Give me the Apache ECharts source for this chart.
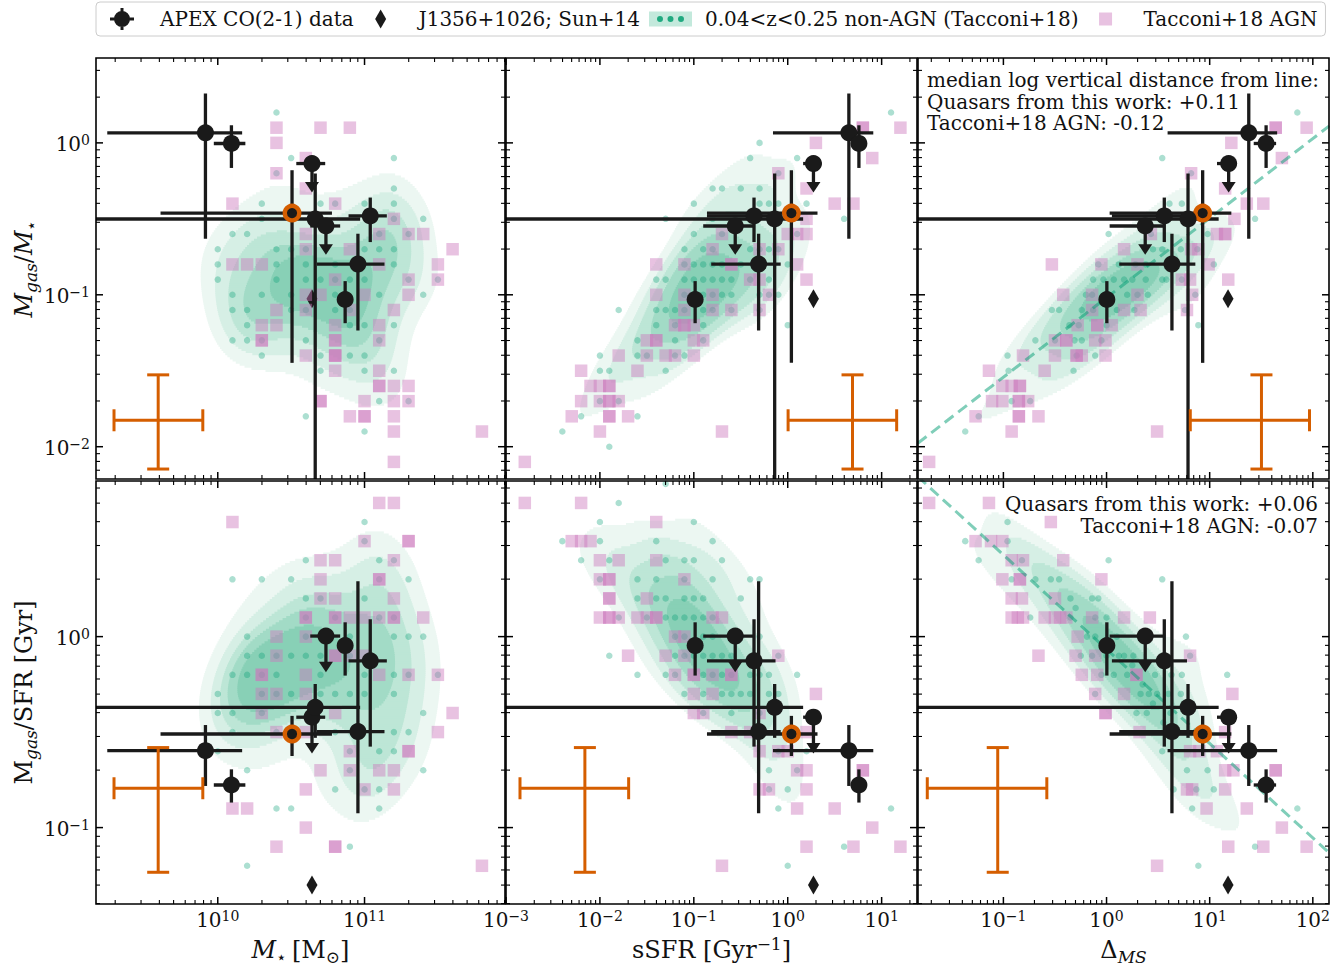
<!DOCTYPE html>
<html>
<head>
<meta charset="utf-8">
<title>Gas fraction and depletion time of quasar hosts</title>
<script src="https://cdn.jsdelivr.net/npm/echarts@6.0.0/dist/echarts.min.js"></script>
<style>
html,body{margin:0;padding:0;background:#ffffff;}
#chart{width:1342px;height:967px;}
</style>
</head>
<body>
<div id="chart"></div>
<script>
const FONT = 'DejaVu Serif';
const TXT = '#111111';
const Q_COLOR = '#1a1a1a';
const ORANGE = '#d55e00';
const p10 = v => Math.pow(10, v);

// ---------------- axis limits (real units) and major tick values ----------------
const massLim = [1.48e9, 9.06e11];
const ssfrLim = [1.0e-3, 23.8];
const dmsLim  = [0.01486, 143.5];
const fgasLim = [0.00613, 3.62];
const tdepLim = [0.0398, 6.53];
const massTicks = [1e10, 1e11];
const ssfrTicks = [1e-3, 1e-2, 1e-1, 1, 10];
const dmsTicks  = [0.1, 1, 10, 100];
const fgasTicks = [0.01, 0.1, 1];
const tdepTicks = [0.1, 1];

// ---------------- quasars from this work (APEX CO(2-1)), log10 values ----------------
const qLogMstar   = [9.916, 10.093, 10.642, 10.506, 10.664, 10.737, 11.039, 10.955, 10.868];
const qLogMstarLo = [9.247, 9.973, 10.535, 9.61, 8.5, 10.63, 10.891, 10.676, 10.84];
const qLogMstarHi = [10.166, 10.188, 10.732, 10.778, 10.97, 10.834, 11.152, 11.136, 10.90];
const qLogFgas    = [0.066, -0.004, -0.136, -0.462, -0.501, -0.547, -0.481, -0.798, -1.031];
const qLogFgasLo  = [-0.631, -0.165, null, -1.448, -3.0, null, -0.653, -1.235, -1.187];
const qLogFgasHi  = [0.325, 0.116, null, -0.18, -0.202, null, -0.36, -0.598, -0.91];
const qLogSSFR    = [0.651, 0.758, 0.274, 0.039, -0.139, -0.559, -0.359, -0.31, -0.986];
const qLogSSFRLo  = [-0.157, 0.70, 0.164, -0.86, -3.5, -0.90, -0.86, -0.815, -0.986];
const qLogSSFRHi  = [0.911, 0.80, 0.36, 0.317, 0.164, -0.36, -0.13, -0.075, -0.986];
const qLogDMS     = [1.379, 1.547, 1.184, 0.932, 0.790, 0.375, 0.560, 0.634, 0.003];
const qLogDMSLo   = [0.592, 1.427, 1.071, 0.03, -2.5, 0.03, 0.052, 0.123, 0.003];
const qLogDMSHi   = [1.654, 1.644, 1.265, 1.21, 1.087, 0.55, 0.78, 0.861, 0.003];
const qLogTdep    = [-0.597, -0.777, -0.422, -0.510, -0.370, 0.003, -0.127, -0.497, -0.047];
const qLogTdepLo  = [-0.782, -0.869, null, -0.625, -0.53, null, -0.576, -0.925, -0.204];
const qLogTdepHi  = [-0.463, -0.695, null, -0.415, -0.248, null, 0.091, 0.29, 0.075];
const qUpperLimit = [false, false, true, false, false, true, false, false, false];
const qHighlight  = [false, false, false, true, false, false, false, false, false];
const ARROW_DEX = 0.19;

// ---------------- J1356+1026 (Sun+14), log10 ----------------
const sunLogMstar = [10.642];
const sunLogFgas  = [-1.026];
const sunLogSSFR  = [0.274];
const sunLogDMS   = [1.178];
const sunLogTdep  = [-1.30];

// ---------------- Tacconi+18 non-AGN (log10 x, log10 y) ----------------
const dotsMassFgas = [[10.4,0.2],[10.5,-0.1],[11.2,-0.1],[10.4,-0.2],[11.2,-0.3],[10.3,-0.4],[10.7,-0.4],[10.8,-0.4],[11.0,-0.4],[11.2,-0.4],[10.3,-0.5],[11.2,-0.5],[11.4,-0.5],[10.1,-0.6],[10.2,-0.6],[11.1,-0.6],[11.3,-0.6],[10.0,-0.7],[10.4,-0.7],[10.5,-0.7],[10.6,-0.7],[11.0,-0.7],[11.1,-0.7],[11.2,-0.7],[10.0,-0.8],[10.4,-0.8],[10.6,-0.8],[10.8,-0.8],[11.2,-0.8],[10.0,-0.9],[10.4,-0.9],[10.6,-0.9],[10.7,-0.9],[10.8,-0.9],[10.9,-0.9],[11.0,-0.9],[11.3,-0.9],[11.5,-0.9],[10.1,-1.0],[10.3,-1.0],[10.5,-1.0],[10.8,-1.0],[11.1,-1.0],[11.4,-1.0],[10.1,-1.1],[10.2,-1.1],[10.5,-1.1],[10.6,-1.1],[10.8,-1.1],[10.9,-1.1],[10.2,-1.2],[10.9,-1.2],[11.0,-1.2],[11.2,-1.2],[10.1,-1.3],[10.2,-1.3],[10.3,-1.3],[10.6,-1.3],[11.1,-1.3],[10.3,-1.4],[10.7,-1.4],[10.9,-1.4],[11.0,-1.4],[10.7,-1.5],[11.0,-1.5],[11.2,-1.5],[11.1,-1.7],[11.3,-1.7],[10.6,-1.8],[11.0,-1.9]];
const dotsSsfrFgas = [[1.1,0.2],[-0.3,0.0],[-0.4,-0.1],[0.1,-0.1],[-0.1,-0.2],[-0.8,-0.3],[-0.7,-0.3],[-0.5,-0.3],[-0.3,-0.3],[-1.0,-0.4],[-0.3,-0.4],[-0.2,-0.4],[-0.1,-0.4],[0.2,-0.4],[-1.3,-0.5],[-0.8,-0.5],[0.6,-0.5],[-1.0,-0.6],[-0.7,-0.6],[0.1,-0.6],[-1.1,-0.7],[-0.9,-0.7],[-0.8,-0.7],[-0.4,-0.7],[-0.3,-0.7],[-0.2,-0.7],[-0.1,-0.7],[-1.1,-0.8],[-1.0,-0.8],[-0.9,-0.8],[-0.8,-0.8],[-0.7,-0.8],[-0.5,-0.8],[0.0,-0.8],[-1.4,-0.9],[-1.3,-0.9],[-1.1,-0.9],[-1.0,-0.9],[-0.9,-0.9],[-0.8,-0.9],[-0.7,-0.9],[-0.6,-0.9],[-0.4,-0.9],[-0.2,-0.9],[-1.1,-1.0],[-0.9,-1.0],[-0.8,-1.0],[-0.7,-1.0],[-0.6,-1.0],[-0.3,-1.0],[-0.2,-1.0],[-0.1,-1.0],[-1.8,-1.1],[-1.4,-1.1],[-1.3,-1.1],[-1.2,-1.1],[-1.1,-1.1],[-0.9,-1.1],[-0.8,-1.1],[-0.6,-1.1],[-0.3,-1.1],[-1.4,-1.2],[-1.2,-1.2],[-0.9,-1.2],[0.0,-1.2],[-1.6,-1.3],[-1.2,-1.3],[-0.9,-1.3],[-2.0,-1.4],[-1.6,-1.4],[-1.5,-1.4],[-1.2,-1.4],[-1.1,-1.4],[-2.0,-1.5],[-1.9,-1.5],[-1.3,-1.5],[-2.0,-1.7],[-1.8,-1.7],[-2.2,-1.8],[-1.6,-1.8],[-2.4,-1.9],[-1.9,-2.0]];
const dotsDmsFgas = [[1.85,0.2],[0.54,-0.1],[0.82,-0.2],[0.61,-0.4],[0.73,-0.4],[1.44,-0.5],[0.02,-0.6],[0.43,-0.6],[0.98,-0.6],[0.54,-0.7],[0.72,-0.7],[0.88,-0.7],[0.45,-0.7],[-0.08,-0.8],[0.12,-0.8],[0.28,-0.8],[0.38,-0.8],[0.6,-0.8],[1.04,-0.8],[-0.13,-0.9],[-0.03,-0.9],[0.07,-0.9],[0.17,-0.9],[0.25,-0.9],[0.38,-0.9],[0.54,-0.9],[0.58,-0.9],[0.73,-0.9],[-0.2,-1.0],[-0.14,-1.0],[0.2,-1.0],[0.30,-1.0],[0.40,-1.0],[0.86,-1.0],[-0.53,-1.1],[-0.46,-1.1],[-0.24,-1.1],[-0.13,-1.1],[0.1,-1.1],[0.27,-1.1],[0.76,-1.1],[-0.36,-1.2],[-0.27,-1.2],[0.0,-1.2],[0.89,-1.2],[-0.69,-1.3],[-0.50,-1.3],[-0.31,-1.3],[-0.24,-1.3],[-0.05,-1.3],[-0.96,-1.4],[-0.29,-1.4],[-0.11,-1.4],[-0.95,-1.5],[-0.32,-1.5],[-0.92,-1.7],[-0.74,-1.7],[-1.24,-1.8],[-1.37,-1.9]];
const dotsMassTdep = [[11.0,0.6],[11.0,0.5],[10.6,0.4],[11.1,0.4],[11.2,0.4],[10.1,0.3],[10.3,0.3],[10.5,0.3],[11.1,0.3],[11.3,0.3],[10.6,0.2],[10.7,0.2],[11.0,0.2],[10.6,0.1],[10.8,0.1],[11.1,0.1],[11.2,0.1],[10.2,0.0],[10.6,0.0],[10.9,0.0],[11.2,0.0],[11.3,0.0],[11.4,0.0],[10.2,-0.1],[10.3,-0.1],[10.4,-0.1],[10.5,-0.1],[10.6,-0.1],[10.7,-0.1],[10.9,-0.1],[10.1,-0.2],[10.2,-0.2],[10.3,-0.2],[10.4,-0.2],[10.7,-0.2],[11.0,-0.2],[11.2,-0.2],[11.3,-0.2],[11.5,-0.2],[10.0,-0.3],[10.3,-0.3],[10.4,-0.3],[10.5,-0.3],[10.7,-0.3],[10.8,-0.3],[10.9,-0.3],[11.0,-0.3],[11.2,-0.3],[10.0,-0.4],[10.1,-0.4],[10.3,-0.4],[11.4,-0.4],[10.1,-0.5],[10.4,-0.5],[10.8,-0.5],[11.2,-0.5],[11.3,-0.5],[10.0,-0.6],[10.9,-0.6],[11.1,-0.6],[11.2,-0.6],[10.2,-0.7],[10.9,-0.7],[11.4,-0.7],[10.8,-0.8],[11.0,-0.8],[11.1,-0.8],[10.4,-0.9],[10.5,-0.9],[11.1,-0.9],[10.9,-1.1],[10.2,-1.2]];
const dotsSsfrTdep = [[-1.3,0.8],[-1.8,0.7],[-2.0,0.6],[-1.0,0.6],[-2.4,0.5],[-2.0,0.5],[-1.4,0.5],[-0.8,0.5],[-2.2,0.4],[-1.9,0.4],[-1.3,0.4],[-1.1,0.4],[-1.0,0.4],[-0.7,0.4],[-2.0,0.3],[-1.6,0.3],[-1.4,0.3],[-1.1,0.3],[-0.8,0.3],[-0.4,0.3],[-0.3,0.3],[-1.6,0.2],[-1.4,0.2],[-1.3,0.2],[-1.1,0.2],[-1.0,0.2],[-0.9,0.2],[-0.5,0.2],[-1.8,0.1],[-1.5,0.1],[-1.3,0.1],[-1.2,0.1],[-1.1,0.1],[-1.0,0.1],[-0.9,0.1],[-0.8,0.1],[-1.2,0.0],[-1.1,0.0],[-0.9,0.0],[-0.8,0.0],[-0.3,0.0],[-1.9,-0.1],[-1.2,-0.1],[-1.1,-0.1],[-1.0,-0.1],[-0.9,-0.1],[-0.8,-0.1],[-0.7,-0.1],[-0.6,-0.1],[-0.1,-0.1],[-1.6,-0.2],[-1.3,-0.2],[-1.2,-0.2],[-0.9,-0.2],[-0.8,-0.2],[-0.7,-0.2],[-0.6,-0.2],[-0.4,-0.2],[-0.3,-0.2],[-0.2,-0.2],[0.1,-0.2],[-1.1,-0.3],[-0.9,-0.3],[-0.7,-0.3],[-0.6,-0.3],[-0.5,-0.3],[-0.4,-0.3],[-0.2,-0.3],[-0.1,-0.3],[-0.9,-0.4],[-0.6,-0.4],[-0.3,-0.4],[-0.1,-0.6],[0.2,-0.6],[-0.2,-0.7],[0.1,-0.7],[-0.2,-0.8],[0.0,-0.8],[-0.1,-0.9],[1.1,-0.9],[0.6,-1.1],[0.0,-1.2]];
const dotsDmsTdep = [[-0.96,0.6],[-1.37,0.5],[-0.96,0.5],[-1.24,0.4],[-0.82,0.4],[0.02,0.4],[-0.92,0.3],[-0.69,0.3],[-0.54,0.3],[-0.46,0.3],[0.54,0.3],[-0.35,0.2],[-0.14,0.2],[-0.08,0.2],[-0.3,0.15],[-0.74,0.1],[-0.35,0.1],[-0.11,0.1],[0.00,0.1],[-0.19,0.0],[-0.11,0.0],[0.1,0.0],[0.77,0.0],[-0.25,-0.1],[-0.14,-0.1],[0.0,-0.1],[0.12,-0.1],[0.17,-0.1],[0.26,-0.1],[0.81,-0.1],[0.25,-0.15],[-0.05,-0.2],[0.07,-0.2],[0.2,-0.2],[0.47,-0.2],[0.63,-0.2],[0.73,-0.2],[1.17,-0.2],[0.35,-0.25],[-0.11,-0.3],[0.33,-0.3],[0.41,-0.3],[0.49,-0.3],[0.60,-0.3],[0.72,-0.3],[0.45,-0.35],[0.29,-0.4],[0.39,-0.4],[0.62,-0.4],[0.55,-0.45],[0.54,-0.6],[0.78,-0.7],[0.98,-0.7],[0.65,-0.8],[0.87,-0.8],[1.04,-0.8],[0.83,-0.9],[1.85,-0.9],[1.44,-1.1],[0.89,-1.2]];

// ---------------- Tacconi+18 AGN (log10 x, log10 y) ----------------
const agnMassFgas = [[10.4,0.1],[10.7,0.1],[10.9,0.1],[10.4,0.0],[10.6,-0.1],[10.4,-0.2],[10.6,-0.3],[10.1,-0.4],[10.8,-0.4],[11.2,-0.5],[10.6,-0.6],[11.1,-0.6],[11.3,-0.6],[11.4,-0.6],[10.6,-0.7],[10.9,-0.7],[11.6,-0.7],[10.1,-0.8],[10.2,-0.8],[10.3,-0.8],[11.1,-0.8],[11.5,-0.8],[10.8,-0.9],[11.3,-0.9],[11.5,-0.9],[10.6,-1.0],[10.7,-1.0],[11.0,-1.0],[11.3,-1.0],[10.4,-1.1],[10.6,-1.1],[10.9,-1.1],[11.2,-1.1],[10.3,-1.2],[10.4,-1.2],[10.8,-1.2],[11.1,-1.2],[10.3,-1.3],[10.3,-1.3],[10.8,-1.3],[10.8,-1.3],[11.1,-1.3],[10.6,-1.4],[10.8,-1.4],[10.8,-1.4],[10.8,-1.4],[10.8,-1.5],[11.1,-1.5],[11.1,-1.6],[11.1,-1.6],[11.2,-1.6],[11.3,-1.6],[10.7,-1.7],[10.7,-1.7],[11.0,-1.7],[11.2,-1.7],[11.3,-1.7],[10.9,-1.8],[11.0,-1.8],[11.0,-1.8],[11.2,-1.8],[11.2,-1.9],[11.8,-1.9],[11.2,-2.1]];
const agnSsfrFgas = [[0.8,0.1],[0.8,0.1],[1.2,0.1],[0.3,0.0],[0.9,-0.1],[-0.1,-0.2],[0.2,-0.3],[0.5,-0.4],[0.7,-0.4],[0.2,-0.5],[-0.7,-0.6],[0.0,-0.6],[0.1,-0.6],[0.2,-0.6],[-0.8,-0.7],[-0.3,-0.7],[-0.1,-0.7],[-1.4,-0.8],[-1.1,-0.8],[-0.6,-0.8],[-0.6,-0.8],[0.1,-0.8],[-0.4,-0.9],[-0.3,-0.9],[0.2,-0.9],[-1.4,-1.0],[-1.1,-1.0],[-0.8,-1.0],[-0.2,-1.0],[-1.1,-1.1],[-0.8,-1.1],[-0.6,-1.1],[-0.3,-1.1],[-1.2,-1.2],[-1.1,-1.2],[-1.1,-1.2],[-1.0,-1.2],[-1.5,-1.3],[-1.4,-1.3],[-1.4,-1.3],[-1.0,-1.3],[-0.9,-1.3],[-1.8,-1.4],[-1.5,-1.4],[-1.3,-1.4],[-1.2,-1.4],[-1.0,-1.4],[-2.2,-1.5],[-1.6,-1.5],[-2.1,-1.6],[-2.0,-1.6],[-1.9,-1.6],[-1.9,-1.6],[-2.2,-1.7],[-2.0,-1.7],[-1.9,-1.7],[-1.9,-1.7],[-1.8,-1.7],[-2.3,-1.8],[-1.9,-1.8],[-1.9,-1.8],[-1.7,-1.8],[-2.0,-1.9],[-0.7,-1.9],[-2.8,-2.1]];
const agnDmsFgas = [[1.64,0.1],[1.64,0.1],[1.94,0.1],[1.21,0.0],[1.70,-0.1],[0.82,-0.2],[1.15,-0.3],[1.36,-0.4],[1.52,-0.4],[1.24,-0.5],[0.43,-0.6],[1.07,-0.6],[1.15,-0.6],[1.15,-0.6],[0.17,-0.7],[0.82,-0.7],[0.89,-0.7],[-0.53,-0.8],[-0.05,-0.8],[0.30,-0.8],[0.99,-0.8],[0.73,-0.9],[0.81,-0.9],[1.18,-0.9],[-0.42,-1.0],[-0.14,-1.0],[0.30,-1.0],[0.83,-1.0],[-0.14,-1.1],[0.17,-1.1],[0.33,-1.1],[0.78,-1.1],[-0.28,-1.2],[-0.09,-1.2],[-0.09,-1.2],[0.05,-1.2],[-0.50,-1.3],[-0.39,-1.3],[-0.39,-1.3],[-0.11,-1.3],[-0.01,-1.3],[-0.81,-1.4],[-0.50,-1.4],[-0.29,-1.4],[-0.29,-1.4],[-0.24,-1.4],[-0.01,-1.4],[-1.14,-1.5],[-0.60,-1.5],[-1.01,-1.6],[-0.92,-1.6],[-0.84,-1.6],[-0.84,-1.6],[-1.11,-1.7],[-1.01,-1.7],[-0.85,-1.7],[-0.85,-1.7],[-0.76,-1.7],[-1.27,-1.8],[-0.85,-1.8],[-0.85,-1.8],[-0.66,-1.8],[-0.92,-1.9],[0.49,-1.9],[-1.72,-2.1]];
const agnMassTdep = [[11.1,0.7],[11.2,0.7],[10.1,0.6],[11.0,0.5],[11.3,0.5],[11.3,0.5],[10.7,0.4],[10.8,0.4],[11.2,0.4],[10.7,0.3],[11.1,0.3],[11.1,0.3],[10.7,0.2],[10.8,0.2],[11.2,0.2],[10.6,0.1],[10.6,0.1],[10.8,0.1],[10.8,0.1],[10.9,0.1],[11.0,0.1],[11.1,0.1],[11.2,0.1],[11.2,0.1],[11.4,0.1],[10.4,0.0],[10.6,0.0],[10.4,-0.1],[10.8,-0.1],[10.8,-0.1],[10.9,-0.1],[11.0,-0.1],[10.3,-0.2],[10.3,-0.2],[10.6,-0.2],[11.1,-0.2],[11.3,-0.2],[11.5,-0.2],[10.3,-0.3],[10.4,-0.3],[10.6,-0.3],[10.3,-0.4],[10.8,-0.4],[11.6,-0.4],[10.4,-0.5],[10.6,-0.5],[11.5,-0.5],[10.9,-0.6],[11.3,-0.6],[11.3,-0.6],[10.7,-0.7],[10.9,-0.7],[11.1,-0.7],[11.2,-0.7],[10.6,-0.8],[11.0,-0.8],[11.2,-0.8],[10.1,-0.9],[10.2,-0.9],[10.6,-1.0],[10.4,-1.1],[10.8,-1.1],[10.8,-1.1],[11.8,-1.2]];
const agnSsfrTdep = [[-2.8,0.7],[-2.2,0.7],[-1.4,0.6],[-2.3,0.5],[-2.2,0.5],[-2.1,0.5],[-2.0,0.4],[-1.8,0.4],[-1.4,0.4],[-2.0,0.3],[-1.9,0.3],[-1.9,0.3],[-1.1,0.3],[-1.9,0.2],[-1.9,0.2],[-1.5,0.2],[-2.0,0.1],[-1.9,0.1],[-1.9,0.1],[-1.8,0.1],[-1.6,0.1],[-1.5,0.1],[-1.4,0.1],[-1.4,0.1],[-0.8,0.1],[-0.7,0.1],[-1.2,0.0],[-1.1,0.0],[-1.7,-0.1],[-1.3,-0.1],[-1.1,-0.1],[-0.1,-0.1],[-1.2,-0.2],[-1.0,-0.2],[-1.0,-0.2],[-0.8,-0.2],[-0.6,-0.2],[-0.6,-0.2],[-1.0,-0.3],[-0.8,-0.3],[0.3,-0.3],[-1.0,-0.4],[-0.9,-0.4],[-0.3,-0.4],[-0.6,-0.5],[-0.4,-0.5],[0.2,-0.5],[-0.3,-0.6],[-0.1,-0.6],[0.0,-0.6],[0.1,-0.7],[0.2,-0.7],[0.8,-0.7],[0.8,-0.7],[-0.3,-0.8],[-0.2,-0.8],[0.2,-0.8],[0.1,-0.9],[0.5,-0.9],[0.9,-1.0],[0.2,-1.1],[0.7,-1.1],[1.2,-1.1],[-0.7,-1.2]];
const agnDmsTdep = [[-1.72,0.7],[-1.14,0.7],[-0.54,0.6],[-1.27,0.5],[-1.12,0.5],[-1.01,0.5],[-0.92,0.4],[-0.81,0.4],[-0.42,0.4],[-1.01,0.3],[-0.84,0.3],[-0.84,0.3],[-0.05,0.3],[-0.92,0.2],[-0.82,0.2],[-0.50,0.2],[-0.92,0.1],[-0.86,0.1],[-0.81,0.1],[-0.60,0.1],[-0.50,0.1],[-0.45,0.1],[-0.39,0.1],[-0.14,0.1],[0.17,0.1],[0.42,0.1],[-0.28,0.0],[-0.66,-0.1],[-0.30,-0.1],[-0.11,-0.1],[0.81,-0.1],[-0.24,-0.2],[-0.09,-0.2],[0.29,-0.2],[0.29,-0.2],[-0.11,-0.3],[0.17,-0.3],[1.22,-0.3],[-0.01,-0.4],[-0.01,-0.4],[0.32,-0.5],[1.15,-0.5],[0.81,-0.6],[0.90,-0.6],[1.07,-0.6],[1.15,-0.7],[1.23,-0.7],[1.64,-0.7],[1.64,-0.7],[0.78,-0.8],[0.83,-0.8],[1.15,-0.8],[0.97,-0.9],[1.36,-0.9],[1.70,-1.0],[1.18,-1.1],[1.52,-1.1],[1.94,-1.1],[0.49,-1.2]];

// ---------------- typical uncertainty crosses: [cx, cy, xlo, xhi, ylo, yhi] (log10) ----------------
const refErrMassFgas = [9.594, -1.826, 9.293, 9.898, -2.147, -1.527];
const refErrSsfrFgas = [0.690, -1.826, 0.004, 1.160, -2.147, -1.527];
const refErrDmsFgas  = [1.502, -1.826, 0.812, 1.968, -2.147, -1.527];
const refErrMassTdep = [9.594, -0.794, 9.293, 9.898, -1.234, -0.581];
const refErrSsfrTdep = [-2.160, -0.794, -2.851, -1.694, -1.234, -0.581];
const refErrDmsTdep  = [-1.055, -0.794, -1.738, -0.579, -1.234, -0.581];

// ---------------- dashed reference lines (two end points, log10) ----------------
const lineDmsFgas = [[-1.83, -1.977], [2.16, 0.112]];
const lineDmsTdep = [[-1.83, 0.838], [2.16, -1.133]];

// ---------------- annotation texts ----------------
const noteFgas = 'median log vertical distance from line:\nQuasars from this work: +0.11\nTacconi+18 AGN: -0.12';
const noteTdep = 'Quasars from this work: +0.06\nTacconi+18 AGN: -0.07';

// =====================================================================
const AX = {
  mass: {lim: massLim, ticks: massTicks},
  ssfr: {lim: ssfrLim, ticks: ssfrTicks},
  dms:  {lim: dmsLim,  ticks: dmsTicks},
  fgas: {lim: fgasLim, ticks: fgasTicks},
  tdep: {lim: tdepLim, ticks: tdepTicks}
};
const Q = {
  mass: [qLogMstar, qLogMstarLo, qLogMstarHi],
  ssfr: [qLogSSFR, qLogSSFRLo, qLogSSFRHi],
  dms:  [qLogDMS, qLogDMSLo, qLogDMSHi],
  fgas: [qLogFgas, qLogFgasLo, qLogFgasHi],
  tdep: [qLogTdep, qLogTdepLo, qLogTdepHi]
};
const SUN = {mass: sunLogMstar, ssfr: sunLogSSFR, dms: sunLogDMS, fgas: sunLogFgas, tdep: sunLogTdep};

const GRID_BOX = [
  {left: 96,  top: 58,  width: 409, height: 421},
  {left: 506, top: 58,  width: 411, height: 421},
  {left: 918, top: 58,  width: 411, height: 421},
  {left: 96,  top: 481, width: 409, height: 423},
  {left: 506, top: 481, width: 411, height: 423},
  {left: 918, top: 481, width: 411, height: 423}
];
const PANELS = [
  {x: 'mass', y: 'fgas', dots: dotsMassFgas, agn: agnMassFgas, ref: refErrMassFgas, line: null,        xlab: false, ylab: true},
  {x: 'ssfr', y: 'fgas', dots: dotsSsfrFgas, agn: agnSsfrFgas, ref: refErrSsfrFgas, line: null,        xlab: false, ylab: false},
  {x: 'dms',  y: 'fgas', dots: dotsDmsFgas,  agn: agnDmsFgas,  ref: refErrDmsFgas,  line: lineDmsFgas, xlab: false, ylab: false},
  {x: 'mass', y: 'tdep', dots: dotsMassTdep, agn: agnMassTdep, ref: refErrMassTdep, line: null,        xlab: true,  ylab: true},
  {x: 'ssfr', y: 'tdep', dots: dotsSsfrTdep, agn: agnSsfrTdep, ref: refErrSsfrTdep, line: null,        xlab: true,  ylab: false},
  {x: 'dms',  y: 'tdep', dots: dotsDmsTdep,  agn: agnDmsTdep,  ref: refErrDmsTdep,  line: lineDmsTdep, xlab: true,  ylab: false}
];

const BAND_COLORS = ['#ecf7f2', '#d6efe5', '#bde6d6', '#a2dbc6', '#88d0b6'];
const KDE_LEVELS = [0.25, 0.4, 0.55, 0.7, 0.85];
const KDE_BW = 1.0;

// gaussian KDE (Scott bandwidth, full covariance) evaluated in log space; filled iso-proportion bands
function kdeBands(pts, xr, yr) {
  const n = pts.length;
  let mx = 0, my = 0;
  for (const p of pts) { mx += p[0]; my += p[1]; }
  mx /= n; my /= n;
  let sxx = 0, syy = 0, sxy = 0;
  for (const p of pts) { const dx = p[0] - mx, dy = p[1] - my; sxx += dx * dx; syy += dy * dy; sxy += dx * dy; }
  sxx /= (n - 1); syy /= (n - 1); sxy /= (n - 1);
  const f2 = Math.pow(n, -1 / 3) * KDE_BW * KDE_BW;
  const a = sxx * f2, b = sxy * f2, d = syy * f2, det = a * d - b * b;
  const ia = d / det, ib = -b / det, id = a / det;
  const NX = 200, NY = 200, dx = (xr[1] - xr[0]) / NX, dy = (yr[1] - yr[0]) / NY;
  const D = new Float64Array(NX * NY);
  let tot = 0;
  for (let j = 0; j < NY; j++) {
    const y = yr[0] + (j + 0.5) * dy;
    for (let i = 0; i < NX; i++) {
      const x = xr[0] + (i + 0.5) * dx;
      let s = 0;
      for (const p of pts) { const u = x - p[0], v = y - p[1]; s += Math.exp(-0.5 * (ia * u * u + 2 * ib * u * v + id * v * v)); }
      D[j * NX + i] = s; tot += s;
    }
  }
  const sorted = Array.from(D).sort((u, v) => v - u);
  const cum = new Float64Array(sorted.length);
  let c = 0;
  for (let k = 0; k < sorted.length; k++) { c += sorted[k]; cum[k] = c / tot; }
  const thr = KDE_LEVELS.map(q => {
    const target = 1 - q;
    let k = 0;
    while (k < cum.length - 1 && cum[k] < target) k++;
    return sorted[k];
  });
  const out = [];
  thr.forEach((t, k) => {
    for (let j = 0; j < NY; j++) {
      const y0 = yr[0] + j * dy, y1 = y0 + dy;
      let start = null;
      for (let i = 0; i < NX; i++) {
        const v = D[j * NX + i], inside = v >= t;
        const xc = xr[0] + (i + 0.5) * dx;
        if (inside && start === null) {
          if (i === 0) start = xr[0];
          else { const pv = D[j * NX + i - 1]; start = xc - dx + dx * (t - pv) / (v - pv); }
        } else if (!inside && start !== null) {
          const pv = D[j * NX + i - 1];
          const end = xc - dx + dx * (pv - t) / (pv - v);
          out.push([p10(start), p10(end), p10(y0), p10(y1), k]);
          start = null;
        }
      }
      if (start !== null) out.push([p10(start), p10(xr[1]), p10(y0), p10(y1), k]);
    }
  });
  return out;
}

function minorTicks(lim) {
  const out = [];
  for (let e = -5; e <= 13; e++) for (let m = 2; m <= 9; m++) {
    const v = m * Math.pow(10, e);
    if (v >= lim[0] * 1.0001 && v <= lim[1] * 0.9999) out.push(v);
  }
  return out;
}
function powLabel(v) {
  const e = Math.round(Math.log10(v));
  return '{b|10}{s|' + (e < 0 ? '\u2212' : '') + Math.abs(e) + '}';
}
const RICH_TICK = {
  b: {fontFamily: FONT, fontSize: 20, lineHeight: 22, fill: TXT},
  s: {fontFamily: FONT, fontSize: 14, lineHeight: 8, verticalAlign: 'top', fill: TXT}
};

function renderAxes(params, api) {
  const cs = params.coordSys, kind = api.value(2), lab = api.value(3);
  const L = cs.x, R = cs.x + cs.width, T = cs.y, B = cs.y + cs.height;
  if (kind === 9) {
    return {type: 'rect', shape: {x: L, y: T, width: cs.width, height: cs.height}, style: {fill: 'none', stroke: '#000', lineWidth: 1.6}};
  }
  const pt = api.coord([api.value(0), api.value(1)]);
  const major = (kind === 0 || kind === 2), len = major ? 7 : 4;
  const st = {stroke: '#000', lineWidth: major ? 1.5 : 1.1};
  const ch = [];
  if (kind <= 1) {
    const x = pt[0];
    ch.push({type: 'line', shape: {x1: x, y1: B, x2: x, y2: B - len}, style: st});
    ch.push({type: 'line', shape: {x1: x, y1: T, x2: x, y2: T + len}, style: st});
    if (lab) ch.push({type: 'text', x: x, y: B + 5, style: {text: powLabel(api.value(0)), rich: RICH_TICK, align: 'center', verticalAlign: 'top'}});
  } else {
    const y = pt[1];
    ch.push({type: 'line', shape: {x1: L, y1: y, x2: L + len, y2: y}, style: st});
    ch.push({type: 'line', shape: {x1: R, y1: y, x2: R - len, y2: y}, style: st});
    if (lab) ch.push({type: 'text', x: L - 6, y: y + 1, style: {text: powLabel(api.value(1)), rich: RICH_TICK, align: 'right', verticalAlign: 'middle'}});
  }
  return {type: 'group', children: ch};
}

function renderBand(params, api) {
  const p0 = api.coord([api.value(0), api.value(3)]);
  const p1 = api.coord([api.value(1), api.value(2)]);
  return {type: 'rect', shape: {x: p0[0], y: p0[1] - 0.4, width: p1[0] - p0[0], height: p1[1] - p0[1] + 0.8},
          style: {fill: BAND_COLORS[api.value(4)]}};
}

function renderQErr(params, api) {
  const x = api.value(0), y = api.value(1), xl = api.value(2), xh = api.value(3), yl = api.value(4), yh = api.value(5), up = api.value(6);
  const c = api.coord([x, y]);
  const st = {stroke: Q_COLOR, lineWidth: 3.3};
  const ch = [];
  if (xh > xl * 1.001) {
    const a = api.coord([xl, y])[0], b = api.coord([xh, y])[0];
    ch.push({type: 'line', shape: {x1: a, y1: c[1], x2: b, y2: c[1]}, style: st});
  }
  if (up) {
    const tip = api.coord([x, y * p10(-ARROW_DEX)])[1];
    ch.push({type: 'line', shape: {x1: c[0], y1: c[1], x2: c[0], y2: tip - 8}, style: st});
    ch.push({type: 'polygon', shape: {points: [[c[0] - 7, tip - 10.5], [c[0] + 7, tip - 10.5], [c[0], tip]]}, style: {fill: Q_COLOR}});
  } else if (yh > yl * 1.001) {
    const a = api.coord([x, yl])[1], b = api.coord([x, yh])[1];
    ch.push({type: 'line', shape: {x1: c[0], y1: a, x2: c[0], y2: b}, style: st});
  }
  return {type: 'group', children: ch};
}

function renderRefErr(params, api) {
  const x = api.value(0), y = api.value(1);
  const c = api.coord([x, y]);
  const xa = api.coord([api.value(2), y])[0], xb = api.coord([api.value(3), y])[0];
  const ya = api.coord([x, api.value(4)])[1], yb = api.coord([x, api.value(5)])[1];
  const st = {stroke: ORANGE, lineWidth: 3};
  const cap = 11;
  return {type: 'group', children: [
    {type: 'line', shape: {x1: xa, y1: c[1], x2: xb, y2: c[1]}, style: st},
    {type: 'line', shape: {x1: c[0], y1: ya, x2: c[0], y2: yb}, style: st},
    {type: 'line', shape: {x1: xa, y1: c[1] - cap, x2: xa, y2: c[1] + cap}, style: st},
    {type: 'line', shape: {x1: xb, y1: c[1] - cap, x2: xb, y2: c[1] + cap}, style: st},
    {type: 'line', shape: {x1: c[0] - cap, y1: ya, x2: c[0] + cap, y2: ya}, style: st},
    {type: 'line', shape: {x1: c[0] - cap, y1: yb, x2: c[0] + cap, y2: yb}, style: st}
  ]};
}

const NAME_Q = 'APEX CO(2-1) data';
const NAME_SUN = 'J1356+1026; Sun+14';
const NAME_DOTS = '0.04<z<0.25 non-AGN (Tacconi+18)';
const NAME_AGN = 'Tacconi+18 AGN';

const grids = [], xAxes = [], yAxes = [], series = [];
PANELS.forEach((P, i) => {
  const xl = AX[P.x].lim, yl = AX[P.y].lim;
  grids.push(Object.assign({show: false}, GRID_BOX[i]));
  xAxes.push({type: 'log', logBase: 10, gridIndex: i, min: xl[0], max: xl[1], show: false});
  yAxes.push({type: 'log', logBase: 10, gridIndex: i, min: yl[0], max: yl[1], show: false});
  const base = {xAxisIndex: i, yAxisIndex: i, silent: true, animation: false};

  series.push(Object.assign({}, base, {
    type: 'custom', name: 'kde', clip: true, z: 1, progressive: 0,
    encode: {x: [0, 1], y: [2, 3]},
    data: kdeBands(P.dots, [Math.log10(xl[0]), Math.log10(xl[1])], [Math.log10(yl[0]), Math.log10(yl[1])]),
    renderItem: renderBand
  }));
  series.push(Object.assign({}, base, {
    type: 'scatter', name: NAME_DOTS, z: 2, symbol: 'circle', symbolSize: 6.5,
    itemStyle: {color: 'rgba(2,158,115,0.33)', opacity: 1},
    data: P.dots.map(p => [p10(p[0]), p10(p[1])])
  }));
  series.push(Object.assign({}, base, {
    type: 'scatter', name: NAME_SUN, z: 3, symbol: 'path://M0,-10L5.5,0L0,10L-5.5,0Z', symbolSize: [11, 19], symbolKeepAspect: false,
    itemStyle: {color: Q_COLOR, opacity: 1},
    data: SUN[P.x].map((v, k) => [p10(v), p10(SUN[P.y][k])])
  }));
  series.push(Object.assign({}, base, {
    type: 'scatter', name: NAME_AGN, z: 4, symbol: 'rect', symbolSize: 12.5,
    itemStyle: {color: 'rgba(204,120,188,0.45)', opacity: 1},
    data: P.agn.map(p => [p10(p[0]), p10(p[1])])
  }));
  if (P.line) {
    series.push(Object.assign({}, base, {
      type: 'line', name: 'relation', z: 5, showSymbol: false, symbol: 'none', clip: true,
      lineStyle: {color: 'rgba(2,158,115,0.5)', width: 3, type: [11, 6]},
      data: P.line.map(p => [p10(p[0]), p10(p[1])])
    }));
  }
  const [qx, qxl, qxh] = Q[P.x], [qy, qyl, qyh] = Q[P.y];
  series.push(Object.assign({}, base, {
    type: 'custom', name: 'quasar errors', clip: true, z: 6,
    encode: {x: 0, y: 1},
    data: qx.map((v, k) => [p10(v), p10(qy[k]), p10(qxl[k]), p10(qxh[k]),
      p10(qyl[k] === null ? qy[k] : qyl[k]), p10(qyh[k] === null ? qy[k] : qyh[k]), qUpperLimit[k] ? 1 : 0]),
    renderItem: renderQErr
  }));
  series.push(Object.assign({}, base, {
    type: 'scatter', name: NAME_Q, z: 7, symbol: 'circle', symbolSize: 17,
    itemStyle: {color: Q_COLOR, opacity: 1},
    data: qx.map((v, k) => qHighlight[k]
      ? {value: [p10(v), p10(qy[k])], symbolSize: 14.5, itemStyle: {color: Q_COLOR, borderColor: ORANGE, borderWidth: 4.3, opacity: 1}}
      : {value: [p10(v), p10(qy[k])]})
  }));
  series.push(Object.assign({}, base, {
    type: 'custom', name: 'typical uncertainty', clip: true, z: 8,
    encode: {x: 0, y: 1},
    data: [[p10(P.ref[0]), p10(P.ref[1]), p10(P.ref[2]), p10(P.ref[3]), p10(P.ref[4]), p10(P.ref[5])]],
    renderItem: renderRefErr
  }));
  const td = [];
  AX[P.x].ticks.forEach(v => td.push([v, yl[0], 0, P.xlab ? 1 : 0]));
  minorTicks(xl).forEach(v => td.push([v, yl[0], 1, 0]));
  AX[P.y].ticks.forEach(v => td.push([xl[0], v, 2, P.ylab ? 1 : 0]));
  minorTicks(yl).forEach(v => td.push([xl[0], v, 3, 0]));
  td.push([xl[0], yl[0], 9, 0]);
  series.push(Object.assign({}, base, {
    type: 'custom', name: 'axes', clip: false, z: 20, encode: {x: 0, y: 1}, data: td, renderItem: renderAxes
  }));
});

// ---------------- legend icons ----------------
const ICON_ERRBAR = 'path://M0,0M51,22M6,9.5h24v3h-24zM16.5,0h3v22h-3zM10,11a8,8 0 1,1 16,0a8,8 0 1,1 -16,0z';
const ICON_DIAMOND = 'path://M0,0M51,22M18,1.5L23.5,11L18,20.5L12.5,11z';
const ICON_SQUARE = 'path://M0,0M51,22M11.5,4.5h13v13h-13z';
const patchSvg = "<svg xmlns='http://www.w3.org/2000/svg' width='51' height='22' viewBox='0 0 51 22'>" +
  "<rect x='0' y='3.5' width='43' height='15' fill='#c3e9dc'/>" +
  "<circle cx='11' cy='11' r='3' fill='#20aa80'/><circle cx='21.5' cy='11' r='3' fill='#20aa80'/><circle cx='32' cy='11' r='3' fill='#20aa80'/></svg>";
const ICON_PATCH = 'image://data:image/svg+xml;charset=utf-8,' + encodeURIComponent(patchSvg);

const RICH_T = {
  i:   {fontFamily: FONT, fontSize: 24, fontStyle: 'italic', lineHeight: 30, fill: TXT},
  r:   {fontFamily: FONT, fontSize: 24, lineHeight: 30, fill: TXT},
  sub: {fontFamily: FONT, fontSize: 17, lineHeight: 15, verticalAlign: 'bottom', fill: TXT},
  subi:{fontFamily: FONT, fontSize: 17, fontStyle: 'italic', lineHeight: 15, verticalAlign: 'bottom', fill: TXT},
  sup: {fontFamily: FONT, fontSize: 17, lineHeight: 15, verticalAlign: 'top', fill: TXT}
};

const option = {
  animation: false,
  backgroundColor: '#ffffff',
  textStyle: {fontFamily: FONT},
  grid: grids,
  xAxis: xAxes,
  yAxis: yAxes,
  legend: {
    left: 96, top: 2, orient: 'horizontal', selectedMode: false,
    itemWidth: 51, itemHeight: 22, itemGap: 9, padding: [6, 8],
    symbolKeepAspect: false,
    borderColor: '#cccccc', borderWidth: 1, borderRadius: 4, backgroundColor: 'rgba(255,255,255,0.85)',
    textStyle: {fontFamily: FONT, fontSize: 20, color: TXT},
    data: [
      {name: NAME_Q, icon: ICON_ERRBAR, itemStyle: {color: Q_COLOR, opacity: 1}},
      {name: NAME_SUN, icon: ICON_DIAMOND, itemStyle: {color: Q_COLOR, opacity: 1}},
      {name: NAME_DOTS, icon: ICON_PATCH},
      {name: NAME_AGN, icon: ICON_SQUARE, itemStyle: {color: 'rgba(204,120,188,0.45)', opacity: 1}}
    ]
  },
  graphic: [
    {type: 'text', x: 927, y: 69, z: 50, silent: true,
     style: {text: noteFgas, fontFamily: FONT, fontSize: 20, lineHeight: 21.7, fill: TXT, align: 'left', verticalAlign: 'top'}},
    {type: 'text', x: 1318, y: 493, z: 50, silent: true,
     style: {text: noteTdep, fontFamily: FONT, fontSize: 20, lineHeight: 21.7, fill: TXT, align: 'right', verticalAlign: 'top'}},
    {type: 'text', x: 300.5, y: 950, z: 50, silent: true,
     style: {text: '{i|M}{sub|\u22c6}{r|\u2009[M}{sub|\u2299}{r|]}', rich: RICH_T, align: 'center', verticalAlign: 'middle'}},
    {type: 'text', x: 711.5, y: 950, z: 50, silent: true,
     style: {text: '{r|sSFR [Gyr}{sup|\u22121}{r|]}', rich: RICH_T, align: 'center', verticalAlign: 'middle'}},
    {type: 'text', x: 1123.5, y: 950, z: 50, silent: true,
     style: {text: '{r|\u0394}{subi|MS}', rich: RICH_T, align: 'center', verticalAlign: 'middle'}},
    {type: 'text', x: 24, y: 268.5, rotation: Math.PI / 2, z: 50, silent: true,
     style: {text: '{i|M}{subi|gas}{r|/}{i|M}{sub|\u22c6}', rich: RICH_T, align: 'center', verticalAlign: 'middle'}},
    {type: 'text', x: 24, y: 692.5, rotation: Math.PI / 2, z: 50, silent: true,
     style: {text: '{r|M}{subi|gas}{r|/SFR [Gyr]}', rich: RICH_T, align: 'center', verticalAlign: 'middle'}}
  ],
  series: series
};

const chart = echarts.init(document.getElementById('chart'), null, {renderer: 'svg', width: 1342, height: 967});
chart.setOption(option);
</script>
</body>
</html>
